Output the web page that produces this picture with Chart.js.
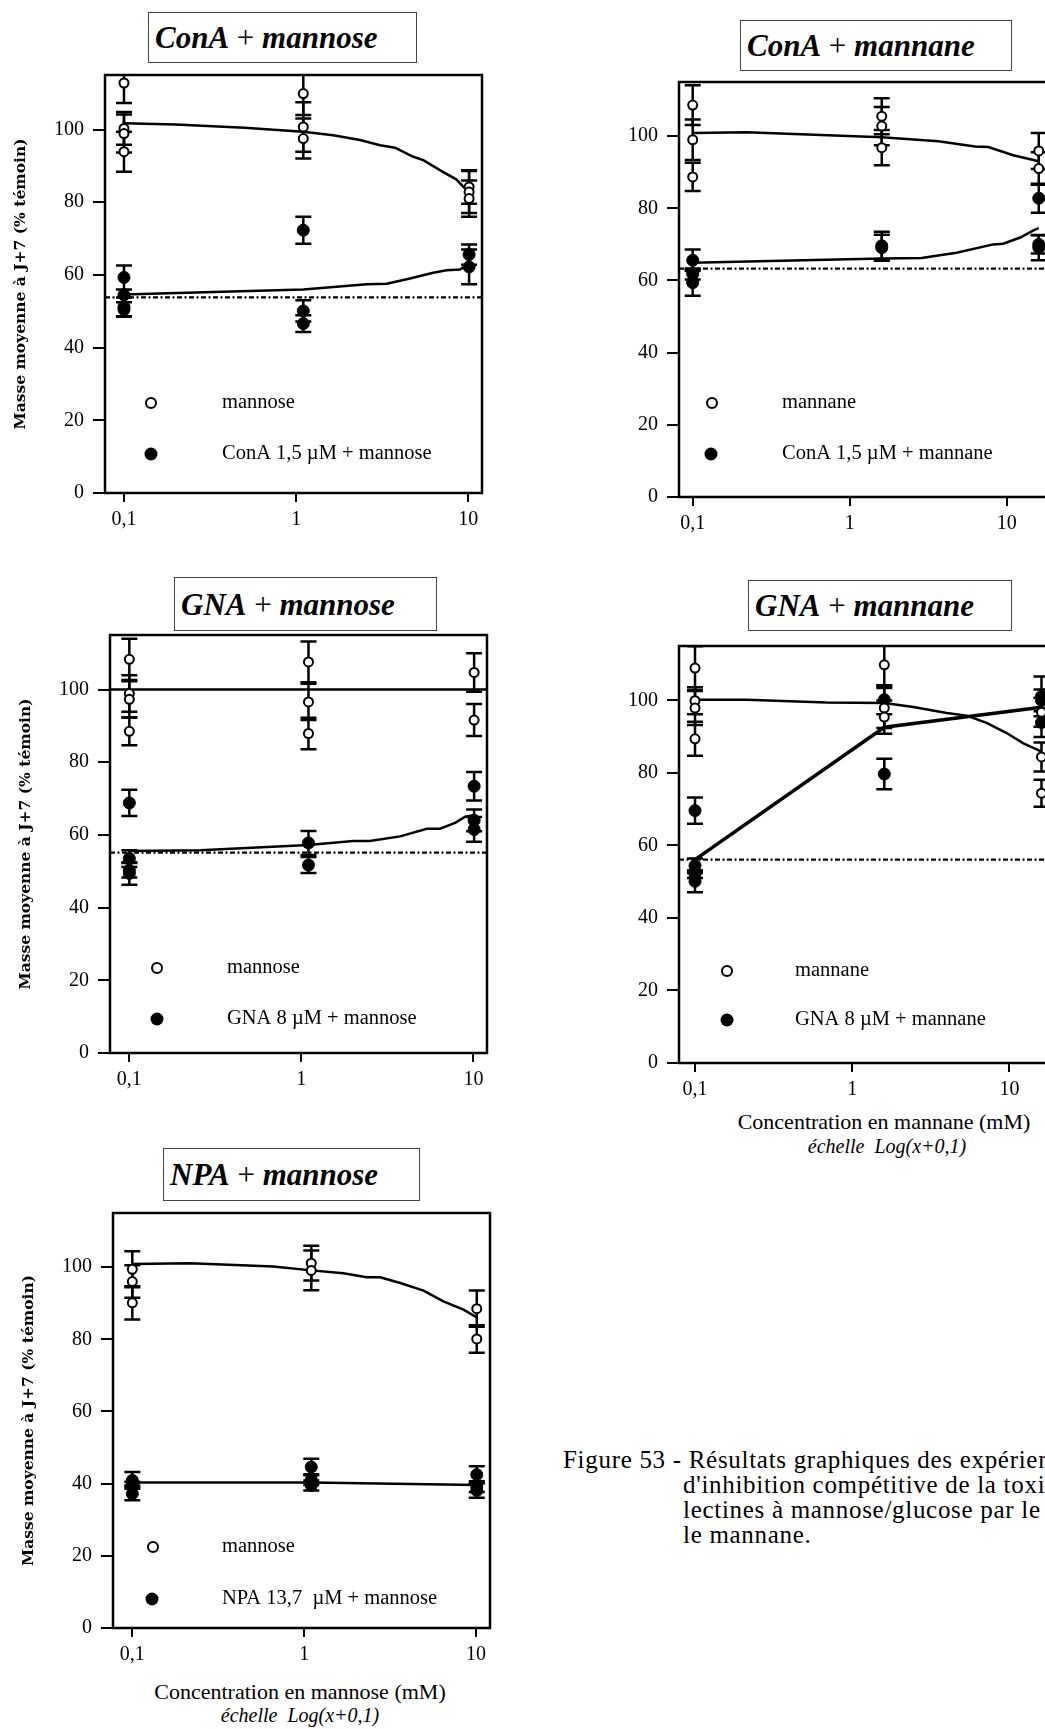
<!DOCTYPE html>
<html lang="fr">
<head>
<meta charset="utf-8">
<title>Figure 53</title>
<script src="https://cdn.jsdelivr.net/npm/chart.js@4.4.1/dist/chart.umd.min.js"></script>
<style>
  html, body { margin: 0; padding: 0; background: #fff; }
  body { position: relative; width: 1045px; height: 1729px; overflow: hidden; font-family: "Liberation Serif", "Times New Roman", serif; color: #000; }
  .tbox { position: absolute; box-sizing: border-box; border: 1px solid #444; display: flex; align-items: center; padding-left: 6px; font-size: 31px; line-height: 1; white-space: nowrap; }
  .tbox b { font-style: italic; }
  .xt { position: absolute; white-space: nowrap; transform: translateX(-50%); line-height: 1; }
  .xt.main { font-size: 22px; }
  .xt.sub { font-size: 20px; font-style: italic; }
  .cap { position: absolute; white-space: nowrap; font-size: 25px; line-height: 1; letter-spacing: 0.7px; }
</style>
</head>
<body>

<div class="tbox" style="left:148px;top:12px;width:269px;height:51px"><b>ConA</b>&nbsp;+&nbsp;<b>mannose</b></div>
<div class="tbox" style="left:740px;top:20px;width:272px;height:51px"><b>ConA</b>&nbsp;+&nbsp;<b>mannane</b></div>
<div class="tbox" style="left:174px;top:577px;width:263px;height:54px"><b>GNA</b>&nbsp;+&nbsp;<b>mannose</b></div>
<div class="tbox" style="left:748px;top:580px;width:264px;height:51px"><b>GNA</b>&nbsp;+&nbsp;<b>mannane</b></div>
<div class="tbox" style="left:163px;top:1148px;width:257px;height:53px"><b>NPA</b>&nbsp;+&nbsp;<b>mannose</b></div>

<div class="xt main" style="left:884px;top:1111px">Concentration en mannane (mM)</div>
<div class="xt sub" style="left:887px;top:1136px">échelle&nbsp; Log(x+0,1)</div>
<div class="xt main" style="left:300px;top:1681px">Concentration en mannose (mM)</div>
<div class="xt sub" style="left:300px;top:1705px">échelle&nbsp; Log(x+0,1)</div>

<div class="cap" style="left:563px;top:1447px">Figure 53 - Résultats graphiques des expériences</div>
<div class="cap" style="left:683px;top:1472px">d'inhibition compétitive de la toxicité des</div>
<div class="cap" style="left:683px;top:1497px">lectines à mannose/glucose par le mannose et</div>
<div class="cap" style="left:683px;top:1522px">le mannane.</div>

<script>
// x is plotted as concentration + 0,1 (échelle Log(x+0,1))
const xTicks = [0.1, 1, 10];
const xTickLabels = ['0,1', '1', '10'];
const yTicks = [0, 20, 40, 60, 80, 100];

// ConA + mannose
const conaMannoseOpenX = [0.1, 0.1, 0.1, 0.1, 1.1, 1.1, 1.1, 10.1, 10.1, 10.1];
const conaMannoseOpenY = [112.8, 100.3, 98.9, 93.9, 109.9, 100.7, 97.5, 84.2, 82.8, 81.0];
const conaMannoseOpenErr = [5.5, 4.5, 5.2, 5.5, 5.9, 6.8, 5.5, 4.6, 5.8, 5.0];
const conaMannoseFilledX = [0.1, 0.1, 0.1, 0.1, 1.1, 1.1, 1.1, 10.1, 10.1];
const conaMannoseFilledY = [59.3, 54.5, 51.2, 50.5, 72.3, 50.1, 46.6, 65.6, 62.2];
const conaMannoseFilledErr = [3.3, 0, 2.6, 2.0, 3.7, 2.9, 2.3, 2.8, 4.8];
const conaMannoseFitOpenX = [0.1, 0.2, 0.5, 1.1, 1.64, 2.35, 3.07, 3.75, 4.79, 5.47, 7.15, 8.5, 9.55, 10.1];
const conaMannoseFitOpenY = [101.7, 101.4, 100.5, 99.4, 98.4, 97.1, 95.7, 95.0, 92.5, 91.6, 88.3, 86.3, 83.8, 82.5];
const conaMannoseFitFilledX = [0.1, 1.1, 2.57, 3.36, 4.58, 6.25, 7.47, 8.94, 10.1];
const conaMannoseFitFilledY = [54.6, 56.0, 57.4, 57.6, 59.0, 60.6, 61.3, 61.5, 63.1];
const conaMannoseControl = 53.8;

// ConA + mannane
const conaMannaneOpenX = [0.1, 0.1, 0.1, 1.6, 1.6, 1.6, 16, 16];
const conaMannaneOpenY = [108.6, 99.0, 88.7, 105.5, 102.8, 96.8, 95.9, 91.0];
const conaMannaneOpenErr = [5.5, 5.6, 3.9, 5.0, 5.3, 4.9, 5.0, 4.5];
const conaMannaneFilledX = [0.1, 0.1, 0.1, 1.6, 1.6, 16, 16, 16];
const conaMannaneFilledY = [65.6, 61.8, 59.4, 69.6, 69.1, 82.8, 69.1, 70.0];
const conaMannaneFilledErr = [3.0, 1.5, 3.6, 3.9, 3.6, 4.0, 3.5, 2.5];
const conaMannaneFitOpenX = [0.1, 0.22, 1.6, 3.67, 6.28, 7.63, 11.0, 14.8, 16];
const conaMannaneFitOpenY = [100.9, 101.1, 99.7, 98.6, 97.1, 97.0, 94.7, 93.4, 93.0];
const conaMannaneFitFilledX = [0.1, 1.6, 2.87, 4.79, 8.22, 9.5, 12.2, 14.8, 16];
const conaMannaneFitFilledY = [64.9, 66.1, 66.2, 67.7, 70.0, 70.2, 71.9, 73.9, 74.5];
const conaMannaneControl = 63.3;

// GNA + mannose
const gnaMannoseOpenX = [0.1, 0.1, 0.1, 0.1, 1.1, 1.1, 1.1, 10.1, 10.1];
const gnaMannoseOpenY = [108.3, 98.9, 97.3, 88.5, 107.6, 96.6, 87.9, 104.7, 91.6];
const gnaMannoseOpenErr = [5.7, 5.0, 5.0, 3.8, 5.6, 5.0, 4.3, 5.3, 4.4];
const gnaMannoseFilledX = [0.1, 0.1, 0.1, 0.1, 1.1, 1.1, 10.1, 10.1, 10.1];
const gnaMannoseFilledY = [68.8, 53.5, 50.3, 49.4, 57.8, 51.7, 73.4, 64.0, 61.5];
const gnaMannoseFilledErr = [3.6, 2.3, 2.0, 3.1, 3.3, 2.2, 3.9, 3.0, 3.4];
const gnaMannoseOpenLevel = 100;
const gnaMannoseFitFilledX = [0.1, 0.258, 1.1, 2.0, 2.5, 3.75, 5.36, 6.4, 7.83, 8.96, 10.1];
const gnaMannoseFitFilledY = [55.6, 55.8, 57.2, 58.3, 58.3, 59.6, 61.7, 61.7, 63.3, 65.0, 65.4];
const gnaMannoseControl = 55.1;

// GNA + mannane
const gnaMannaneOpenX = [0.1, 0.1, 0.1, 0.1, 1.6, 1.6, 1.6, 16, 16, 16];
const gnaMannaneOpenY = [108.9, 99.9, 97.9, 89.4, 109.8, 97.9, 95.4, 96.7, 84.4, 74.4];
const gnaMannaneOpenErr = [6.0, 3.7, 4.7, 4.7, 6.0, 5.5, 4.6, 4.0, 4.0, 3.7];
const gnaMannaneFilledX = [0.1, 0.1, 0.1, 0.1, 1.6, 1.6, 16, 16, 16];
const gnaMannaneFilledY = [69.6, 54.4, 52.0, 50.1, 100.2, 79.7, 101.1, 100.0, 93.9];
const gnaMannaneFilledErr = [3.6, 2.0, 1.0, 3.0, 4.0, 4.2, 5.5, 3.0, 4.0];
const gnaMannaneFitOpenX = [0.1, 0.213, 0.687, 1.6, 2.45, 3.99, 5.35, 7.16, 9.6, 12.2, 16];
const gnaMannaneFitOpenY = [100.2, 100.2, 99.4, 99.3, 98.2, 96.5, 95.8, 93.8, 91.0, 88.2, 85.9];
const gnaMannaneFitFilledX = [0.1, 1.6, 16];
const gnaMannaneFitFilledY = [56.1, 92.6, 98.1];
const gnaMannaneControl = 56.1;

// NPA + mannose
const npaMannoseOpenX = [0.1, 0.1, 0.1, 1.1, 1.1, 10.1, 10.1];
const npaMannoseOpenY = [99.4, 96.0, 90.1, 101.1, 99.1, 88.5, 80.1];
const npaMannoseOpenErr = [5.0, 4.5, 4.6, 4.8, 5.5, 5.0, 3.8];
const npaMannoseFilledX = [0.1, 0.1, 0.1, 1.1, 1.1, 1.1, 10.1, 10.1, 10.1];
const npaMannoseFilledY = [40.9, 40.0, 37.2, 44.6, 41.1, 39.5, 42.5, 39.2, 38.1];
const npaMannoseFilledErr = [2.3, 0.5, 1.8, 2.3, 1.5, 1.4, 2.3, 1.5, 2.0];
const npaMannoseFitOpenX = [0.1, 0.217, 0.66, 1.1, 1.69, 2.31, 2.77, 3.62, 4.95, 6.46, 8.45, 10.1];
const npaMannoseFitOpenY = [100.9, 101.1, 100.2, 99.1, 98.3, 97.2, 97.2, 95.6, 93.5, 90.5, 88.2, 86.1];
const npaMannoseFitFilledX = [0.1, 1.1, 10.1];
const npaMannoseFitFilledY = [40.3, 40.3, 39.6];

const Y_TITLE = 'Masse moyenne à J+7 (% témoin)';

const panels = [
  {
    box: [0, 45, 512, 493], xMin: 0.0776, xMax: 12.0, yTitle: true,
    openX: conaMannoseOpenX, openY: conaMannoseOpenY, openErr: conaMannoseOpenErr,
    filledX: conaMannoseFilledX, filledY: conaMannoseFilledY, filledErr: conaMannoseFilledErr,
    fitOpenX: conaMannoseFitOpenX, fitOpenY: conaMannoseFitOpenY,
    fitFilledX: conaMannoseFitFilledX, fitFilledY: conaMannoseFitFilledY,
    control: conaMannoseControl,
    legend: [[151, 403, 222, 'mannose', false], [151, 454, 222, 'ConA 1,5 µM + mannose', true]],
  },
  {
    box: [574, 52, 511, 490], xMin: 0.0818, xMax: 20.3, yTitle: false,
    openX: conaMannaneOpenX, openY: conaMannaneOpenY, openErr: conaMannaneOpenErr,
    filledX: conaMannaneFilledX, filledY: conaMannaneFilledY, filledErr: conaMannaneFilledErr,
    fitOpenX: conaMannaneFitOpenX, fitOpenY: conaMannaneFitOpenY,
    fitFilledX: conaMannaneFitFilledX, fitFilledY: conaMannaneFitFilledY,
    control: conaMannaneControl,
    legend: [[712, 403, 782, 'mannane', false], [711, 454, 782, 'ConA 1,5 µM + mannane', true]],
  },
  {
    box: [5, 605, 512, 493], xMin: 0.0772, xMax: 12.0, yTitle: true,
    openX: gnaMannoseOpenX, openY: gnaMannoseOpenY, openErr: gnaMannoseOpenErr,
    filledX: gnaMannoseFilledX, filledY: gnaMannoseFilledY, filledErr: gnaMannoseFilledErr,
    openLevel: gnaMannoseOpenLevel,
    fitFilledX: gnaMannoseFitFilledX, fitFilledY: gnaMannoseFitFilledY,
    control: gnaMannoseControl,
    legend: [[157, 968, 227, 'mannose', false], [157, 1019, 227, 'GNA 8 µM + mannose', true]],
  },
  {
    box: [574, 616, 511, 492], xMin: 0.0791, xMax: 19.5, yTitle: false,
    openX: gnaMannaneOpenX, openY: gnaMannaneOpenY, openErr: gnaMannaneOpenErr,
    filledX: gnaMannaneFilledX, filledY: gnaMannaneFilledY, filledErr: gnaMannaneFilledErr,
    fitOpenX: gnaMannaneFitOpenX, fitOpenY: gnaMannaneFitOpenY,
    fitFilledX: gnaMannaneFitFilledX, fitFilledY: gnaMannaneFitFilledY, fitFilledWidth: 3.5,
    control: gnaMannaneControl,
    legend: [[727, 971, 795, 'mannane', false], [727, 1020, 795, 'GNA 8 µM + mannane', true]],
  },
  {
    box: [8, 1183, 512, 490], xMin: 0.0772, xMax: 12.06, yTitle: true,
    openX: npaMannoseOpenX, openY: npaMannoseOpenY, openErr: npaMannoseOpenErr,
    filledX: npaMannoseFilledX, filledY: npaMannoseFilledY, filledErr: npaMannoseFilledErr,
    fitOpenX: npaMannoseFitOpenX, fitOpenY: npaMannoseFitOpenY,
    fitFilledX: npaMannoseFitFilledX, fitFilledY: npaMannoseFitFilledY,
    legend: [[153, 1547, 222, 'mannose', false], [152, 1599, 222, 'NPA 13,7  µM + mannose', true]],
  },
];

Chart.defaults.font.family = '"Liberation Serif", "Times New Roman", serif';
Chart.defaults.color = '#000';

// error bars, control line, frame and in-plot legend
const decor = {
  id: 'decor',
  beforeDatasetsDraw(chart, args, opts) {
    const { ctx, chartArea: a } = chart;
    const x = chart.scales.x;
    const y = chart.scales.y;
    ctx.save();
    ctx.beginPath();
    ctx.rect(a.left, a.top, a.right - a.left, a.bottom - a.top);
    ctx.clip();
    ctx.strokeStyle = '#000';
    (opts.levels || []).forEach((l) => {
      const py = y.getPixelForValue(l.value);
      ctx.setLineDash(l.dash);
      ctx.lineWidth = l.width;
      ctx.beginPath();
      ctx.moveTo(a.left, py);
      ctx.lineTo(a.right, py);
      ctx.stroke();
    });
    ctx.setLineDash([]);
    ctx.lineWidth = 2.5;
    chart.data.datasets.forEach((ds) => {
      if (!ds.err) return;
      ds.data.forEach((p, i) => {
        const e = ds.err[i];
        if (!e) return;
        const px = x.getPixelForValue(p.x);
        const y1 = y.getPixelForValue(p.y + e);
        const y2 = y.getPixelForValue(p.y - e);
        ctx.beginPath();
        ctx.moveTo(px, y1); ctx.lineTo(px, y2);
        ctx.moveTo(px - 8, y1); ctx.lineTo(px + 8, y1);
        ctx.moveTo(px - 8, y2); ctx.lineTo(px + 8, y2);
        ctx.stroke();
      });
    });
    ctx.restore();
  },
  afterDraw(chart, args, opts) {
    const { ctx, chartArea: a } = chart;
    ctx.save();
    ctx.strokeStyle = '#000';
    ctx.lineWidth = 2.5;
    ctx.strokeRect(a.left, a.top, a.right - a.left, a.bottom - a.top);
    ctx.font = '20.5px "Liberation Serif", "Times New Roman", serif';
    ctx.textBaseline = 'middle';
    ctx.fillStyle = '#000';
    (opts.legend || []).forEach(([mx, my, tx, label, filled]) => {
      const cx = mx - opts.offset[0];
      const cy = my - opts.offset[1];
      ctx.beginPath();
      ctx.arc(cx, cy, filled ? 6.5 : 5, 0, Math.PI * 2);
      if (filled) {
        ctx.fill();
      } else {
        ctx.fillStyle = '#fff';
        ctx.fill();
        ctx.lineWidth = 2;
        ctx.stroke();
        ctx.fillStyle = '#000';
      }
      ctx.fillText(label, tx - opts.offset[0], cy);
    });
    ctx.restore();
  },
};

function pairs(xs, ys) {
  return xs.map((x, i) => ({ x, y: ys[i] }));
}

function buildPanel(p) {
  const canvas = document.createElement('canvas');
  const [left, top, w, h] = p.box;
  canvas.width = w;
  canvas.height = h;
  canvas.style.cssText = `position:absolute;left:${left}px;top:${top}px;width:${w}px;height:${h}px`;
  document.body.appendChild(canvas);

  const datasets = [
    { data: pairs(p.openX, p.openY), err: p.openErr, showLine: false,
      pointRadius: 4.5, pointBackgroundColor: '#fff', pointBorderColor: '#000', pointBorderWidth: 2 },
    { data: pairs(p.filledX, p.filledY), err: p.filledErr, showLine: false,
      pointRadius: 6, pointBackgroundColor: '#000', pointBorderColor: '#000', pointBorderWidth: 1 },
  ];
  if (p.fitOpenX) {
    datasets.push({ data: pairs(p.fitOpenX, p.fitOpenY), showLine: true, borderColor: '#000',
      borderWidth: 2.5, pointRadius: 0, tension: 0 });
  }
  if (p.fitFilledX) {
    datasets.push({ data: pairs(p.fitFilledX, p.fitFilledY), showLine: true, borderColor: '#000',
      borderWidth: p.fitFilledWidth || 2.5, pointRadius: 0, tension: 0 });
  }

  const levels = [];
  if (p.openLevel !== undefined) levels.push({ value: p.openLevel, dash: [], width: 2.5 });
  if (p.control !== undefined) levels.push({ value: p.control, dash: [5, 2.5, 2, 2.5], width: 2.3 });

  const axisGrid = (len) => ({
    display: true, drawOnChartArea: false, drawTicks: true, tickLength: len,
    tickWidth: 2, tickColor: '#000', color: '#000', lineWidth: 2,
  });

  new Chart(canvas, {
    type: 'scatter',
    data: { datasets },
    options: {
      responsive: false,
      animation: false,
      devicePixelRatio: 1,
      layout: { padding: { left: 0, top: 30, right: 30, bottom: 0 } },
      plugins: {
        legend: { display: false },
        tooltip: { enabled: false },
        decor: { levels, legend: p.legend, offset: [left, top] },
      },
      scales: {
        x: {
          type: 'logarithmic',
          min: p.xMin,
          max: p.xMax,
          afterBuildTicks: (s) => { s.ticks = xTicks.map((v) => ({ value: v })); },
          afterFit: (s) => { s.height = 45; },
          grid: axisGrid(9),
          border: { display: false },
          ticks: {
            font: { size: 20 }, color: '#000', padding: 6, maxRotation: 0, autoSkip: false,
            callback: (v) => xTickLabels[xTicks.indexOf(v)],
          },
        },
        y: {
          min: 0,
          max: 115,
          afterBuildTicks: (s) => { s.ticks = yTicks.map((v) => ({ value: v })); },
          afterFit: (s) => { s.width = 105; },
          grid: axisGrid(12),
          border: { display: false },
          ticks: { font: { size: 20 }, color: '#000', padding: 9, callback: (v) => String(v) },
          title: {
            display: p.yTitle,
            text: Y_TITLE,
            color: '#000',
            font: { family: '"DejaVu Serif", serif', size: 15.5, weight: 'bold' },
            padding: { top: 11.7, bottom: 0 },
          },
        },
      },
    },
    plugins: [decor],
  });
}

panels.forEach(buildPanel);
</script>
</body>
</html>
